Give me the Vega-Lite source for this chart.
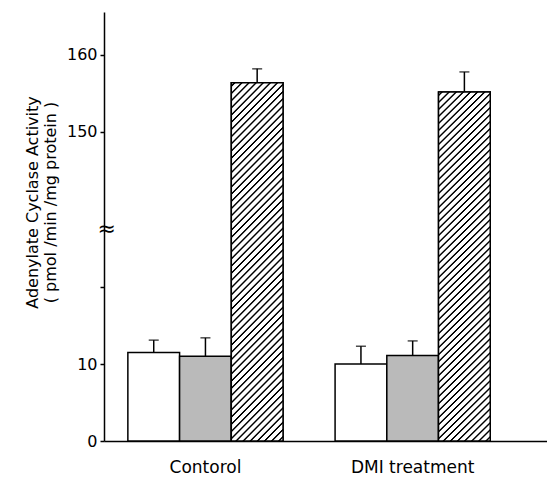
{
  "$schema": "https://vega.github.io/schema/vega-lite/v6.json",
  "width": 443,
  "height": 429,
  "autosize": {"type": "none"},
  "padding": {"left": 104, "top": 12, "right": 0, "bottom": 38},
  "background": "white",
  "config": {"view": {"stroke": null}, "font": "DejaVu Sans"},
  "data": {"values": [
    {"group": "Contorol", "type": "white", "value": 11.5, "upper": 13.1},
    {"group": "Contorol", "type": "grey", "value": 11.0, "upper": 13.4},
    {"group": "Contorol", "type": "hatched", "value": 156.4, "upper": 158.2},
    {"group": "DMI treatment", "type": "white", "value": 10.0, "upper": 12.3},
    {"group": "DMI treatment", "type": "grey", "value": 11.1, "upper": 13.0},
    {"group": "DMI treatment", "type": "hatched", "value": 155.2, "upper": 157.8}
  ]},
  "encoding": {
    "x": {"field": "group", "type": "nominal",
      "scale": {"domain": ["Contorol", "DMI treatment"], "paddingInner": 0.2512, "paddingOuter": 0.1945, "align": 0.296},
      "axis": {"title": null, "labelAngle": 0, "ticks": false, "domainColor": "black", "domainWidth": 1.5, "labelFont": "DejaVu Sans", "labelFontSize": 17, "labelColor": "black", "labelPadding": 18, "grid": false}},
    "xOffset": {"field": "type", "type": "nominal", "scale": {"domain": ["white", "grey", "hatched"], "paddingInner": 0, "paddingOuter": 0}}
  },
  "layer": [
    {
      "mark": {"type": "bar", "stroke": "black", "strokeWidth": 1.5},
      "encoding": {
        "y": {"field": "value", "type": "quantitative",
          "scale": {"domain": [0, 27.6, 137.47, 165.58], "range": [429, 216.5, 216.5, 0], "zero": false, "nice": false},
          "axis": {
            "title": ["Adenylate Cyclase Activity", "( pmol /min /mg protein )"],
            "titleFont": "DejaVu Sans", "titleFontSize": 16, "titleFontWeight": "normal", "titleColor": "black",
            "titleLineHeight": 18, "titlePadding": 8, "titleY": 190,
            "values": [0, 10, 20, 27.6, 150, 160],
            "labelExpr": "datum.value == 20 ? '' : (datum.value == 27.6 ? '≈' : datum.label)",
            "labelFont": "DejaVu Sans", "labelColor": "black",
            "labelFontSize": {"condition": {"test": "datum.value == 27.6", "value": 22}, "value": 16},
            "labelAlign": {"condition": {"test": "datum.value == 27.6", "value": "left"}, "value": "right"},
            "labelPadding": 3,
            "tickSize": 4, "tickWidth": 1.5, "tickColor": "black",
            "tickOpacity": {"condition": {"test": "datum.value == 27.6", "value": 0}, "value": 1},
            "domainColor": "black", "domainWidth": 1.5, "grid": false
          }},
        "fill": {"field": "type", "type": "nominal", "scale": {"domain": ["white", "grey", "hatched"], "range": ["white", "#bababa", "white"]}, "legend": null}
      }
    },
    {
      "transform": [{"filter": "datum.type == 'hatched'"}],
      "mark": {"type": "bar", "stroke": "black", "strokeWidth": 1.5,
        "fill": {"gradient": "linear", "x1": 0, "y1": 0, "x2": 0.164, "y2": 1.123, "stops": [
          {"offset": 0, "color": "#fff"},
          {"offset": 0.005, "color": "#fff"}, {"offset": 0.0075, "color": "#000"}, {"offset": 0.01, "color": "#000"}, {"offset": 0.0125, "color": "#fff"},
          {"offset": 0.0225, "color": "#fff"}, {"offset": 0.025, "color": "#000"}, {"offset": 0.0275, "color": "#000"}, {"offset": 0.03, "color": "#fff"},
          {"offset": 0.04, "color": "#fff"}, {"offset": 0.0425, "color": "#000"}, {"offset": 0.045, "color": "#000"}, {"offset": 0.0475, "color": "#fff"},
          {"offset": 0.0575, "color": "#fff"}, {"offset": 0.06, "color": "#000"}, {"offset": 0.0625, "color": "#000"}, {"offset": 0.065, "color": "#fff"},
          {"offset": 0.075, "color": "#fff"}, {"offset": 0.0775, "color": "#000"}, {"offset": 0.08, "color": "#000"}, {"offset": 0.0825, "color": "#fff"},
          {"offset": 0.0925, "color": "#fff"}, {"offset": 0.095, "color": "#000"}, {"offset": 0.0975, "color": "#000"}, {"offset": 0.1, "color": "#fff"},
          {"offset": 0.11, "color": "#fff"}, {"offset": 0.1125, "color": "#000"}, {"offset": 0.115, "color": "#000"}, {"offset": 0.1175, "color": "#fff"},
          {"offset": 0.1275, "color": "#fff"}, {"offset": 0.13, "color": "#000"}, {"offset": 0.1325, "color": "#000"}, {"offset": 0.135, "color": "#fff"},
          {"offset": 0.145, "color": "#fff"}, {"offset": 0.1475, "color": "#000"}, {"offset": 0.15, "color": "#000"}, {"offset": 0.1525, "color": "#fff"},
          {"offset": 0.1625, "color": "#fff"}, {"offset": 0.165, "color": "#000"}, {"offset": 0.1675, "color": "#000"}, {"offset": 0.17, "color": "#fff"},
          {"offset": 0.18, "color": "#fff"}, {"offset": 0.1825, "color": "#000"}, {"offset": 0.185, "color": "#000"}, {"offset": 0.1875, "color": "#fff"},
          {"offset": 0.1975, "color": "#fff"}, {"offset": 0.2, "color": "#000"}, {"offset": 0.2025, "color": "#000"}, {"offset": 0.205, "color": "#fff"},
          {"offset": 0.215, "color": "#fff"}, {"offset": 0.2175, "color": "#000"}, {"offset": 0.22, "color": "#000"}, {"offset": 0.2225, "color": "#fff"},
          {"offset": 0.2325, "color": "#fff"}, {"offset": 0.235, "color": "#000"}, {"offset": 0.2375, "color": "#000"}, {"offset": 0.24, "color": "#fff"},
          {"offset": 0.25, "color": "#fff"}, {"offset": 0.2525, "color": "#000"}, {"offset": 0.255, "color": "#000"}, {"offset": 0.2575, "color": "#fff"},
          {"offset": 0.2675, "color": "#fff"}, {"offset": 0.27, "color": "#000"}, {"offset": 0.2725, "color": "#000"}, {"offset": 0.275, "color": "#fff"},
          {"offset": 0.285, "color": "#fff"}, {"offset": 0.2875, "color": "#000"}, {"offset": 0.29, "color": "#000"}, {"offset": 0.2925, "color": "#fff"},
          {"offset": 0.3025, "color": "#fff"}, {"offset": 0.305, "color": "#000"}, {"offset": 0.3075, "color": "#000"}, {"offset": 0.31, "color": "#fff"},
          {"offset": 0.32, "color": "#fff"}, {"offset": 0.3225, "color": "#000"}, {"offset": 0.325, "color": "#000"}, {"offset": 0.3275, "color": "#fff"},
          {"offset": 0.3375, "color": "#fff"}, {"offset": 0.34, "color": "#000"}, {"offset": 0.3425, "color": "#000"}, {"offset": 0.345, "color": "#fff"},
          {"offset": 0.355, "color": "#fff"}, {"offset": 0.3575, "color": "#000"}, {"offset": 0.36, "color": "#000"}, {"offset": 0.3625, "color": "#fff"},
          {"offset": 0.3725, "color": "#fff"}, {"offset": 0.375, "color": "#000"}, {"offset": 0.3775, "color": "#000"}, {"offset": 0.38, "color": "#fff"},
          {"offset": 0.39, "color": "#fff"}, {"offset": 0.3925, "color": "#000"}, {"offset": 0.395, "color": "#000"}, {"offset": 0.3975, "color": "#fff"},
          {"offset": 0.4075, "color": "#fff"}, {"offset": 0.41, "color": "#000"}, {"offset": 0.4125, "color": "#000"}, {"offset": 0.415, "color": "#fff"},
          {"offset": 0.425, "color": "#fff"}, {"offset": 0.4275, "color": "#000"}, {"offset": 0.43, "color": "#000"}, {"offset": 0.4325, "color": "#fff"},
          {"offset": 0.4425, "color": "#fff"}, {"offset": 0.445, "color": "#000"}, {"offset": 0.4475, "color": "#000"}, {"offset": 0.45, "color": "#fff"},
          {"offset": 0.46, "color": "#fff"}, {"offset": 0.4625, "color": "#000"}, {"offset": 0.465, "color": "#000"}, {"offset": 0.4675, "color": "#fff"},
          {"offset": 0.4775, "color": "#fff"}, {"offset": 0.48, "color": "#000"}, {"offset": 0.4825, "color": "#000"}, {"offset": 0.485, "color": "#fff"},
          {"offset": 0.495, "color": "#fff"}, {"offset": 0.4975, "color": "#000"}, {"offset": 0.5, "color": "#000"}, {"offset": 0.5025, "color": "#fff"},
          {"offset": 0.5125, "color": "#fff"}, {"offset": 0.515, "color": "#000"}, {"offset": 0.5175, "color": "#000"}, {"offset": 0.52, "color": "#fff"},
          {"offset": 0.53, "color": "#fff"}, {"offset": 0.5325, "color": "#000"}, {"offset": 0.535, "color": "#000"}, {"offset": 0.5375, "color": "#fff"},
          {"offset": 0.5475, "color": "#fff"}, {"offset": 0.55, "color": "#000"}, {"offset": 0.5525, "color": "#000"}, {"offset": 0.555, "color": "#fff"},
          {"offset": 0.565, "color": "#fff"}, {"offset": 0.5675, "color": "#000"}, {"offset": 0.57, "color": "#000"}, {"offset": 0.5725, "color": "#fff"},
          {"offset": 0.5825, "color": "#fff"}, {"offset": 0.585, "color": "#000"}, {"offset": 0.5875, "color": "#000"}, {"offset": 0.59, "color": "#fff"},
          {"offset": 0.6, "color": "#fff"}, {"offset": 0.6025, "color": "#000"}, {"offset": 0.605, "color": "#000"}, {"offset": 0.6075, "color": "#fff"},
          {"offset": 0.6175, "color": "#fff"}, {"offset": 0.62, "color": "#000"}, {"offset": 0.6225, "color": "#000"}, {"offset": 0.625, "color": "#fff"},
          {"offset": 0.635, "color": "#fff"}, {"offset": 0.6375, "color": "#000"}, {"offset": 0.64, "color": "#000"}, {"offset": 0.6425, "color": "#fff"},
          {"offset": 0.6525, "color": "#fff"}, {"offset": 0.655, "color": "#000"}, {"offset": 0.6575, "color": "#000"}, {"offset": 0.66, "color": "#fff"},
          {"offset": 0.67, "color": "#fff"}, {"offset": 0.6725, "color": "#000"}, {"offset": 0.675, "color": "#000"}, {"offset": 0.6775, "color": "#fff"},
          {"offset": 0.6875, "color": "#fff"}, {"offset": 0.69, "color": "#000"}, {"offset": 0.6925, "color": "#000"}, {"offset": 0.695, "color": "#fff"},
          {"offset": 0.705, "color": "#fff"}, {"offset": 0.7075, "color": "#000"}, {"offset": 0.71, "color": "#000"}, {"offset": 0.7125, "color": "#fff"},
          {"offset": 0.7225, "color": "#fff"}, {"offset": 0.725, "color": "#000"}, {"offset": 0.7275, "color": "#000"}, {"offset": 0.73, "color": "#fff"},
          {"offset": 0.74, "color": "#fff"}, {"offset": 0.7425, "color": "#000"}, {"offset": 0.745, "color": "#000"}, {"offset": 0.7475, "color": "#fff"},
          {"offset": 0.7575, "color": "#fff"}, {"offset": 0.76, "color": "#000"}, {"offset": 0.7625, "color": "#000"}, {"offset": 0.765, "color": "#fff"},
          {"offset": 0.775, "color": "#fff"}, {"offset": 0.7775, "color": "#000"}, {"offset": 0.78, "color": "#000"}, {"offset": 0.7825, "color": "#fff"},
          {"offset": 0.7925, "color": "#fff"}, {"offset": 0.795, "color": "#000"}, {"offset": 0.7975, "color": "#000"}, {"offset": 0.8, "color": "#fff"},
          {"offset": 0.81, "color": "#fff"}, {"offset": 0.8125, "color": "#000"}, {"offset": 0.815, "color": "#000"}, {"offset": 0.8175, "color": "#fff"},
          {"offset": 0.8275, "color": "#fff"}, {"offset": 0.83, "color": "#000"}, {"offset": 0.8325, "color": "#000"}, {"offset": 0.835, "color": "#fff"},
          {"offset": 0.845, "color": "#fff"}, {"offset": 0.8475, "color": "#000"}, {"offset": 0.85, "color": "#000"}, {"offset": 0.8525, "color": "#fff"},
          {"offset": 0.8625, "color": "#fff"}, {"offset": 0.865, "color": "#000"}, {"offset": 0.8675, "color": "#000"}, {"offset": 0.87, "color": "#fff"},
          {"offset": 0.88, "color": "#fff"}, {"offset": 0.8825, "color": "#000"}, {"offset": 0.885, "color": "#000"}, {"offset": 0.8875, "color": "#fff"},
          {"offset": 0.8975, "color": "#fff"}, {"offset": 0.9, "color": "#000"}, {"offset": 0.9025, "color": "#000"}, {"offset": 0.905, "color": "#fff"},
          {"offset": 0.915, "color": "#fff"}, {"offset": 0.9175, "color": "#000"}, {"offset": 0.92, "color": "#000"}, {"offset": 0.9225, "color": "#fff"},
          {"offset": 0.9325, "color": "#fff"}, {"offset": 0.935, "color": "#000"}, {"offset": 0.9375, "color": "#000"}, {"offset": 0.94, "color": "#fff"},
          {"offset": 0.95, "color": "#fff"}, {"offset": 0.9525, "color": "#000"}, {"offset": 0.955, "color": "#000"}, {"offset": 0.9575, "color": "#fff"},
          {"offset": 0.9675, "color": "#fff"}, {"offset": 0.97, "color": "#000"}, {"offset": 0.9725, "color": "#000"}, {"offset": 0.975, "color": "#fff"},
          {"offset": 0.985, "color": "#fff"}, {"offset": 0.9875, "color": "#000"}, {"offset": 0.99, "color": "#000"}, {"offset": 0.9925, "color": "#fff"},
          {"offset": 1, "color": "#fff"}
        ]}},
      "encoding": {
        "y": {"field": "value", "type": "quantitative"}
      }
    },
    {
      "mark": {"type": "rule", "color": "black", "strokeWidth": 1.5},
      "encoding": {
        "y": {"field": "value", "type": "quantitative"},
        "y2": {"field": "upper"}
      }
    },
    {
      "mark": {"type": "tick", "orient": "horizontal", "color": "black", "thickness": 1.5, "size": 10},
      "encoding": {
        "y": {"field": "upper", "type": "quantitative"}
      }
    }
  ]
}
